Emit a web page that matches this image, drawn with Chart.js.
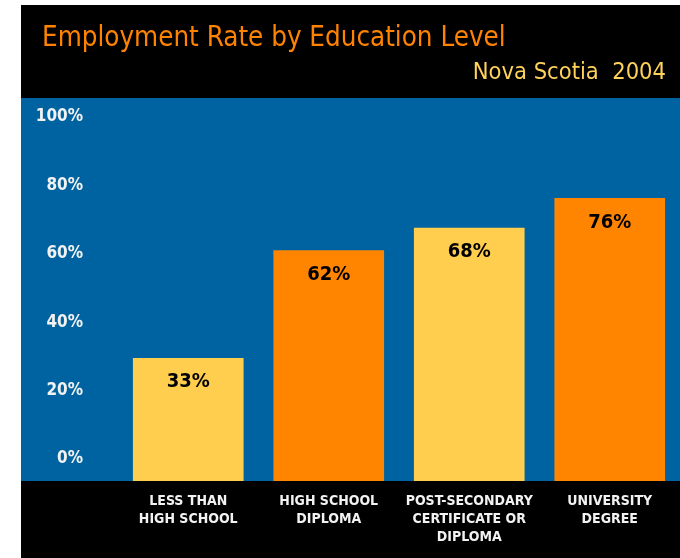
<!DOCTYPE html>
<html>
<head>
<meta charset="utf-8">
<script src="https://cdn.jsdelivr.net/npm/chart.js@4.4.1/dist/chart.umd.min.js"></script>
<style>
  html, body { margin: 0; padding: 0; background: #fff; }
  canvas { display: block; }
</style>
</head>
<body>
<canvas id="eduChart" width="680" height="558"></canvas>
<script>
const categories = [
  ['LESS THAN', 'HIGH SCHOOL'],
  ['HIGH SCHOOL', 'DIPLOMA'],
  ['POST-SECONDARY', 'CERTIFICATE OR', 'DIPLOMA'],
  ['UNIVERSITY', 'DEGREE']
];
const employmentRate = [33, 62, 68, 76];
const barColors = ['#FFCE4E', '#FF8500', '#FFCE4E', '#FF8500'];
const titleText = 'Employment Rate by Education Level';
const subtitleText = 'Nova Scotia  2004';

const FONT = "'Liberation Sans Narrow', 'DejaVu Sans Condensed', 'Liberation Sans', sans-serif";

// black panel with the blue plot band behind the bars
const panel = {
  id: 'panel',
  beforeDraw(chart) {
    const {ctx, chartArea, width, height} = chart;
    ctx.save();
    ctx.fillStyle = '#ffffff';
    ctx.fillRect(0, 0, width, height);
    ctx.fillStyle = '#000000';
    ctx.fillRect(21, 5, width - 21, height - 5);
    ctx.fillStyle = '#0063A1';
    ctx.fillRect(21, chartArea.top, chartArea.right - 21, chartArea.bottom - chartArea.top);
    ctx.restore();
  }
};

// heading and place/year line
const heading = {
  id: 'heading',
  afterDraw(chart) {
    const {ctx} = chart;
    ctx.save();
    ctx.textBaseline = 'alphabetic';
    ctx.fillStyle = '#FF8300';
    ctx.font = '27.5px ' + FONT;
    ctx.textAlign = 'left';
    ctx.fillText(titleText, 42, 46);
    ctx.fillStyle = '#FFD25A';
    ctx.font = '23.5px ' + FONT;
    ctx.textAlign = 'right';
    ctx.fillText(subtitleText, 666, 79);
    ctx.restore();
  }
};

// percentage printed inside the top of each bar
const valueLabels = {
  id: 'valueLabels',
  afterDatasetsDraw(chart) {
    const {ctx} = chart;
    const meta = chart.getDatasetMeta(0);
    ctx.save();
    ctx.fillStyle = '#000000';
    ctx.font = 'bold 20px ' + FONT;
    ctx.textAlign = 'center';
    ctx.textBaseline = 'middle';
    meta.data.forEach((bar, i) => {
      ctx.fillText(employmentRate[i] + '%', bar.x, bar.y + 24);
    });
    ctx.restore();
  }
};

new Chart(document.getElementById('eduChart'), {
  type: 'bar',
  data: {
    labels: categories,
    datasets: [{
      data: employmentRate,
      backgroundColor: barColors,
      borderWidth: 0,
      barThickness: 110
    }]
  },
  options: {
    responsive: false,
    animation: false,
    layout: { padding: { top: 98, left: 21, right: 0, bottom: 0 } },
    plugins: {
      legend: { display: false },
      tooltip: { enabled: false }
    },
    scales: {
      x: {
        grid: { display: false, drawTicks: false },
        border: { display: false },
        ticks: {
          color: '#F2F2F2',
          font: { family: FONT, size: 14, weight: 'bold', lineHeight: 1.3 },
          padding: 11,
          maxRotation: 0,
          autoSkip: false
        },
        afterFit(scale) { scale.height = 77; }
      },
      y: {
        display: false,
        min: 0,
        max: 103
      },
      yTicks: {
        type: 'linear',
        position: 'left',
        min: -6.43,
        max: 105.56,
        grid: { display: false, drawTicks: false },
        border: { display: false },
        ticks: {
          stepSize: 20,
          includeBounds: false,
          color: '#F2F2F2',
          font: { family: FONT, size: 17, weight: 'bold' },
          padding: 35,
          callback: v => v + '%'
        },
        afterFit(scale) { scale.width = 97; }
      }
    }
  },
  plugins: [panel, heading, valueLabels]
});
</script>
</body>
</html>
